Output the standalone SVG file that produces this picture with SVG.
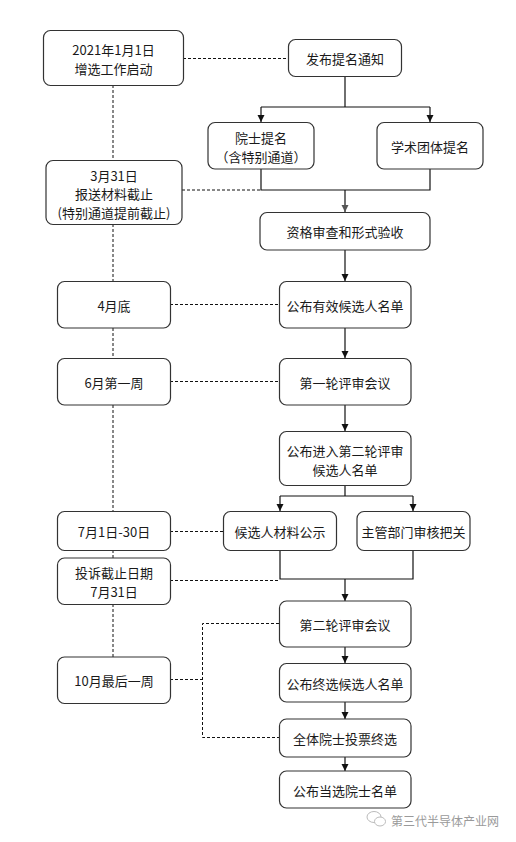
<svg xmlns="http://www.w3.org/2000/svg" width="516" height="842" viewBox="0 0 516 842">
<style>
.box{fill:#fff;stroke:#333;stroke-width:1.2}
.t{font-family:"Noto Sans CJK SC","Microsoft YaHei",sans-serif;font-size:13px;fill:#1a1a1a;text-anchor:middle;dominant-baseline:central}
.ln{fill:none;stroke:#111;stroke-width:1.2}
.dl{fill:none;stroke:#111;stroke-width:1;stroke-dasharray:3,2}
.wm{font-family:"Noto Sans CJK SC",sans-serif;font-size:12px;fill:#9a9a9a;dominant-baseline:central}
</style>
<defs>
<marker id="ah" markerUnits="userSpaceOnUse" markerWidth="8" markerHeight="8" refX="7" refY="4" orient="auto"><path d="M0,0.5 L7,4 L0,7.5 z" fill="#111"/></marker>
<marker id="ahg" markerUnits="userSpaceOnUse" markerWidth="8" markerHeight="8" refX="7" refY="4" orient="auto"><path d="M0,0.5 L7,4 L0,7.5 z" fill="#555"/></marker>
</defs>
<rect width="516" height="842" fill="#fff"/>
<g id="connectors">
<path class="ln" d="M345,77 V107 M261,107 H430"/>
<path class="ln" d="M261,107 V122" marker-end="url(#ah)"/>
<path class="ln" d="M430,107 V122" marker-end="url(#ah)"/>
<path class="ln" d="M261,169 V190 H430 V169"/>
<path class="ln" d="M345,190 V212" stroke="#555" marker-end="url(#ahg)"/>
<path class="ln" d="M345,250 V281" marker-end="url(#ah)"/>
<path class="ln" d="M345,328 V358" marker-end="url(#ah)"/>
<path class="ln" d="M345,405 V431" marker-end="url(#ah)"/>
<path class="ln" d="M345,485 V496 M280,496 H413"/>
<path class="ln" d="M280,496 V511" marker-end="url(#ah)"/>
<path class="ln" d="M413,496 V511" marker-end="url(#ah)"/>
<path class="ln" d="M280,550 V579 H413 V550"/>
<path class="ln" d="M345,579 V601" marker-end="url(#ah)"/>
<path class="ln" d="M345,647 V663" marker-end="url(#ah)"/>
<path class="ln" d="M345,702 V719" marker-end="url(#ah)"/>
<path class="ln" d="M345,757 V771" marker-end="url(#ah)"/>
<path class="dl" d="M183,58.5 H288 M113,85 V160 M182,190 H260 M113,224 V281 M170,304.5 H279 M113,328 V358 M170,381.5 H279 M113,405 V511 M170,531.5 H223 M113,550 V558 M170,580.5 H280 M113,604 V657 M170,679.5 H202.5 M279,623.5 H202.5 V737.5 H279"/>
</g>
<g id="n_start"><rect class="box" x="43.5" y="30.5" width="140" height="55" rx="7"/><text class="t" x="113.5" y="49">2021年1月1日</text><text class="t" x="113.5" y="68">增选工作启动</text></g>
<g id="n_notice"><rect class="box" x="288.5" y="39.5" width="113" height="37" rx="7"/><text class="t" x="345" y="58">发布提名通知</text></g>
<g id="n_acad"><rect class="box" x="208" y="122.5" width="106" height="46.5" rx="7"/><text class="t" x="261" y="137">院士提名</text><text class="t" x="261" y="156">（含特别通道）</text></g>
<g id="n_soc"><rect class="box" x="377" y="122.5" width="106" height="46.5" rx="7"/><text class="t" x="430" y="146">学术团体提名</text></g>
<g id="n_0331"><rect class="box" x="46" y="160.5" width="136" height="64" rx="7"/><text class="t" x="114" y="175">3月31日</text><text class="t" x="114" y="193.5">报送材料截止</text><text class="t" x="114" y="212">(特别通道提前截止)</text></g>
<g id="n_check"><rect class="box" x="260" y="212.5" width="170" height="37.5" rx="7"/><text class="t" x="345" y="231.5">资格审查和形式验收</text></g>
<g id="n_apr"><rect class="box" x="57.5" y="281.5" width="113" height="46.5" rx="7"/><text class="t" x="114" y="305">4月底</text></g>
<g id="n_valid"><rect class="box" x="279.5" y="281.5" width="131.5" height="46.5" rx="7"/><text class="t" x="345" y="305">公布有效候选人名单</text></g>
<g id="n_jun"><rect class="box" x="57.5" y="358.5" width="113" height="46.5" rx="7"/><text class="t" x="114" y="382">6月第一周</text></g>
<g id="n_r1"><rect class="box" x="279.5" y="358.5" width="131.5" height="46.5" rx="7"/><text class="t" x="345" y="382">第一轮评审会议</text></g>
<g id="n_r2list"><rect class="box" x="279.5" y="431.5" width="131.5" height="54" rx="7"/><text class="t" x="345" y="450">公布进入第二轮评审</text><text class="t" x="345" y="469">候选人名单</text></g>
<g id="n_jul"><rect class="box" x="57.5" y="511.5" width="113" height="39" rx="7"/><text class="t" x="114" y="531.5">7月1日-30日</text></g>
<g id="n_pub"><rect class="box" x="223.5" y="511.5" width="113" height="39" rx="7"/><text class="t" x="280" y="531.5">候选人材料公示</text></g>
<g id="n_dept"><rect class="box" x="357" y="511.5" width="113" height="39" rx="7"/><text class="t" x="413.5" y="531.5">主管部门审核把关</text></g>
<g id="n_compl"><rect class="box" x="57.5" y="558" width="113" height="46.5" rx="7"/><text class="t" x="114" y="572">投诉截止日期</text><text class="t" x="114" y="591">7月31日</text></g>
<g id="n_r2"><rect class="box" x="279.5" y="601" width="131.5" height="46" rx="7"/><text class="t" x="345" y="624">第二轮评审会议</text></g>
<g id="n_oct"><rect class="box" x="57.5" y="657" width="113" height="46.5" rx="7"/><text class="t" x="114" y="680">10月最后一周</text></g>
<g id="n_final"><rect class="box" x="279.5" y="663.5" width="131.5" height="38.5" rx="7"/><text class="t" x="345" y="683">公布终选候选人名单</text></g>
<g id="n_vote"><rect class="box" x="279.5" y="719" width="131.5" height="38" rx="7"/><text class="t" x="345" y="738">全体院士投票终选</text></g>
<g id="n_elected"><rect class="box" x="279.5" y="771" width="131.5" height="37" rx="7"/><text class="t" x="345" y="790">公布当选院士名单</text></g>
<g id="watermark">
<ellipse cx="374" cy="817" rx="7" ry="5.5" fill="none" stroke="#bbb" stroke-width="1"/>
<ellipse cx="380" cy="821.5" rx="5.5" ry="4.5" fill="#fff" stroke="#bbb" stroke-width="1"/>
<text class="wm" x="391" y="820">第三代半导体产业网</text>
</g>
</svg>
